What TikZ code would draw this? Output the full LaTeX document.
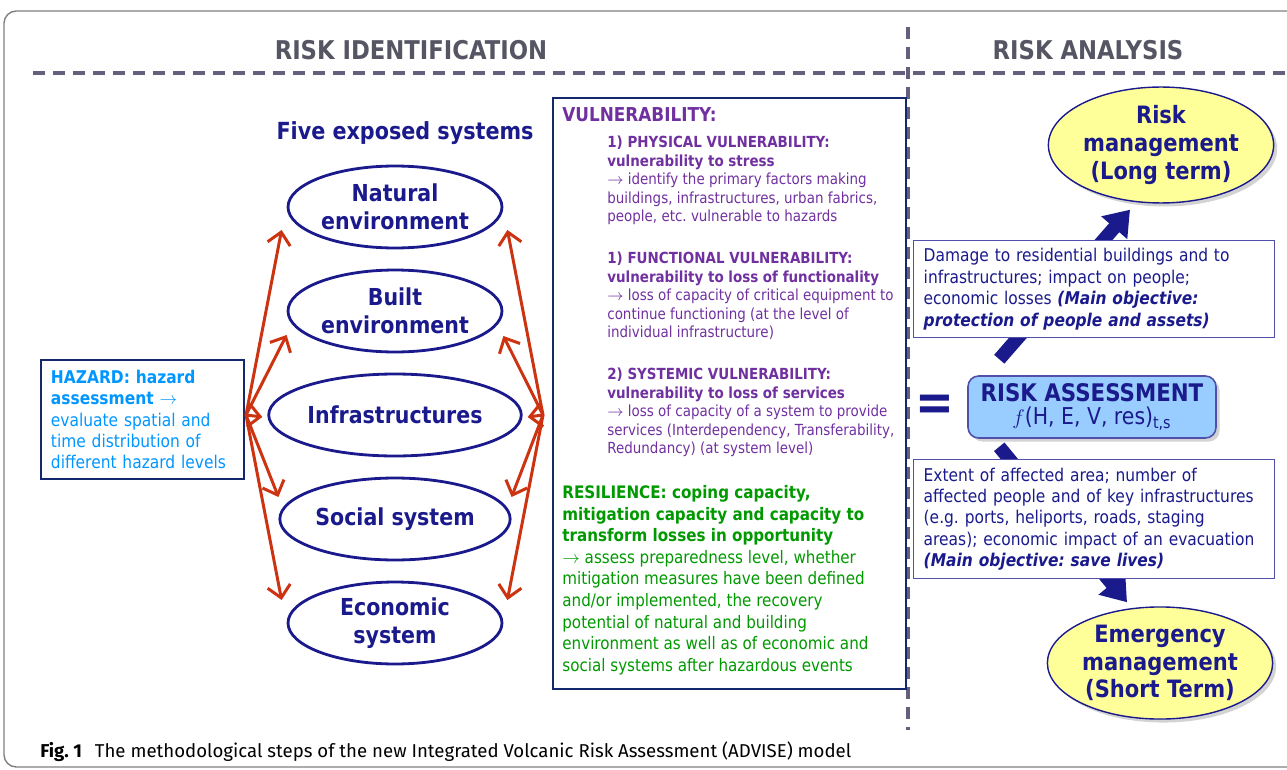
\documentclass[tikz,border=0pt]{standalone}
\usepackage{fontspec}
\setmainfont{DejaVu Sans}[FakeStretch=0.88]
\newfontfamily\captionfont{Fira Sans}
\usetikzlibrary{positioning,arrows.meta}
\usetikzlibrary{shapes.geometric,shadows}
\usetikzlibrary{math,calc}
\frenchspacing

\definecolor{navy}{RGB}{26,26,140}
\definecolor{redarr}{RGB}{204,51,17}
\definecolor{vulnpurple}{RGB}{112,48,160}
\definecolor{resgreen}{RGB}{0,153,0}
\definecolor{hazblue}{RGB}{0,150,255}
\definecolor{headgray}{RGB}{85,85,100}
\definecolor{dashgray}{RGB}{100,95,125}
\definecolor{boxblue}{RGB}{20,40,110}
\definecolor{thinblue}{RGB}{80,80,170}
\definecolor{assessfill}{RGB}{153,204,255}
\definecolor{mgmtfill}{RGB}{255,255,153}

\tikzset{
    system/.style={ellipse, draw=navy, line width=1.6pt, text=navy,
        minimum width=4.28cm, minimum height=1.64cm, inner sep=1pt, align=center,
        font=\bfseries\fontsize{13.3}{15.9}\selectfont},
    mgmt/.style={ellipse, draw=navy, line width=0.8pt, fill=mgmtfill, text=navy,
        minimum width=4.5cm, minimum height=2.18cm, inner sep=1pt, align=center,
        drop shadow={shadow xshift=2pt, shadow yshift=-2pt, opacity=0.35},
        font=\bfseries\fontsize{13.6}{15.7}\selectfont},
    infobox/.style={draw=thinblue, line width=0.8pt, fill=white, text=navy,
        inner xsep=0.2cm, text width=6.82cm, align=left,
        font=\fontsize{10}{12.2}\selectfont},
    redline/.style={draw=redarr, line width=1.7pt, ->},
    bigarrow/.style={draw=navy, line width=0.27cm,
        -{Triangle[length=0.48cm,width=0.66cm]}},
    divider/.style={draw=dashgray, line width=2.3pt,
        dash pattern=on 0.24cm off 0.16cm},
    header/.style={text=headgray, font=\bfseries\fontsize{14.7}{17}\selectfont},
}

\begin{document}
\begin{tikzpicture}[
    x=0.02cm, y=-0.02cm,
    >={Straight Barb[length=2.4mm,width=4.6mm]},
  ]

  \tikzmath{
    \sysx = 395; % centre line of the five systems
    \sysy = 207; % centre of the first system
    \sysgap = 104; % distance between two systems
  }

  \useasboundingbox (0,0) rectangle (1287,770);

  % frame of the figure
  \draw[draw=gray, line width=0.8pt, rounded corners=7pt] (4,11) rectangle (1320,767);

  % ---------------
  % Headers
  % ---------------
  \node[header] (identhead) at (411,50) {RISK IDENTIFICATION};
  \node[header] (analhead) at (1088,50) {RISK ANALYSIS};

  \draw[divider] (33,73) -- (1287,73);
  \draw[divider] (908,27) -- (908,730);

  % ---------------
  % Risk identification
  % ---------------

  % hazard box
  \node[draw=boxblue, line width=1.1pt, text=hazblue, anchor=north west,
        minimum width=4.06cm, minimum height=2.38cm, inner xsep=0.2cm,
        text width=3.66cm, align=left, font=\fontsize{10}{12.2}\selectfont]
    (hazard) at (40,359)
    {\textbf{HAZARD: hazard}\\ \textbf{assessment} $\rightarrow$\\ evaluate spatial and\\
     time distribution of\\ different hazard levels};

  % five exposed systems
  \node[text=navy, font=\bfseries\fontsize{13.4}{15}\selectfont] (five) at (405,133) {Five exposed systems};

  \node[system] (nat)    at (\sysx, \sysy)            {Natural\\environment};
  \node[system] (built)  at (\sysx, \sysy+\sysgap)    {Built\\environment};
  \node[system] (infra)  at (\sysx, \sysy+2*\sysgap)  {Infrastructures};
  \node[system] (social) at (\sysx, \sysy+3*\sysgap)  {Social system};
  \node[system] (econ)   at (\sysx, \sysy+4*\sysgap)  {Economic\\system};

  \coordinate (lhub) at (246,415);
  \coordinate (rhub) at (543,415);

  % arrows from the hazard
  \draw[redline] (lhub) -- ([shift={(-5,23)}]nat.west);
  \draw[redline] (lhub) -- ([shift={(0,24)}]built.west);
  \draw[redline] (lhub) -- ([shift={(-5,2)}]infra.west);
  \draw[redline] (lhub) -- ([shift={(0,-22)}]social.west);
  \draw[redline] (lhub) -- ([shift={(-5,-23)}]econ.west);

  % arrows from vulnerability and resilience
  \draw[redline] (rhub) -- ([shift={(4,23)}]nat.east);
  \draw[redline] (rhub) -- ([shift={(0,25)}]built.east);
  \draw[redline] (rhub) -- ([shift={(5,2)}]infra.east);
  \draw[redline] (rhub) -- ([shift={(0,-22)}]social.east);
  \draw[redline] (rhub) -- ([shift={(4,-23)}]econ.east);

  % vulnerability and resilience box
  \node[draw=boxblue, line width=1.1pt, anchor=north west,
        minimum width=7.06cm, minimum height=11.82cm] (vuln) at (552,97) {};

  \node[anchor=north west, inner sep=0, text=vulnpurple,
        font=\bfseries\fontsize{10.9}{12}\selectfont]
    (vulnhead) at (562,107) {VULNERABILITY:};

  \node[anchor=north west, inner sep=0, text=vulnpurple, align=left,
        font=\fontsize{8.7}{10.5}\selectfont] (phys) at (607,136)
    {\textbf{1) PHYSICAL VULNERABILITY:}\\ \textbf{vulnerability to stress}\\
     $\rightarrow$ identify the primary factors making\\
     buildings, infrastructures, urban fabrics,\\
     people, etc. vulnerable to hazards};

  \node[anchor=north west, inner sep=0, text=vulnpurple, align=left,
        font=\fontsize{8.7}{10.5}\selectfont] (func) at (607,252)
    {\textbf{1) FUNCTIONAL VULNERABILITY:}\\ \textbf{vulnerability to loss of functionality}\\
     $\rightarrow$ loss of capacity of critical equipment to\\
     continue functioning (at the level of\\
     individual infrastructure)};

  \node[anchor=north west, inner sep=0, text=vulnpurple, align=left,
        font=\fontsize{8.7}{10.5}\selectfont] (syst) at (607,368)
    {\textbf{2) SYSTEMIC VULNERABILITY:}\\ \textbf{vulnerability to loss of services}\\
     $\rightarrow$ loss of capacity of a system to provide\\
     services (Interdependency, Transferability,\\
     Redundancy) (at system level)};

  \node[anchor=north west, inner sep=0, text=resgreen, align=left,
        font=\fontsize{9.8}{12.3}\selectfont] (resil) at (562,485)
    {\textbf{RESILIENCE: coping capacity,}\\
     \textbf{mitigation capacity and capacity to}\\
     \textbf{transform losses in opportunity}\\
     $\rightarrow$ assess preparedness level, whether\\
     mitigation measures have been defined\\
     and/or implemented, the recovery\\
     potential of natural and building\\
     environment as well as of economic and\\
     social systems after hazardous events};

  % ---------------
  % Risk analysis
  % ---------------
  \node[mgmt] (longterm) at (1161,145) {Risk\\management\\(Long term)};
  \node[mgmt] (shortterm) at (1160,663) {Emergency\\management\\(Short Term)};

  \node[draw=thinblue, line width=0.9pt, fill=assessfill, rounded corners=6pt,
        minimum width=4.96cm, minimum height=1.24cm, align=center, text=navy,
        drop shadow={shadow xshift=2pt, shadow yshift=-2pt, opacity=0.35}]
    (assess) at (1092,407)
    {{\bfseries\fontsize{13.8}{15}\selectfont RISK ASSESSMENT}\\[1pt]
     {\fontsize{13.2}{14}\selectfont $f$(H, E, V, res)\textsubscript{t,s}}};

  \node[text=navy, font=\bfseries\fontsize{30}{30}\selectfont] (equal) at (935,408) {=};

  % thick arrows, partly hidden by the boxes
  \draw[bigarrow] ([shift={(32,-16)}]assess.north west) -- ([shift={(-31,6)}]longterm.south);
  \draw[bigarrow] ([shift={(32,8)}]assess.south west) -- ([shift={(-33,-4)}]shortterm.north);

  \node[infobox, anchor=north west, minimum height=1.94cm] (damage) at (913,240)
    {Damage to residential buildings and to\\
     infrastructures; impact on people;\\
     economic losses \textbf{\textit{(Main objective:}}\\
     \textbf{\textit{protection of people and assets)}}};

  \node[infobox, anchor=north west, minimum height=2.38cm] (extent) at (913,459)
    {Extent of affected area; number of\\
     affected people and of key infrastructures\\
     (e.g. ports, heliports, roads, staging\\
     areas); economic impact of an evacuation\\
     \textbf{\textit{(Main objective: save lives)}}};

  % caption
  \node[anchor=base west, inner sep=0, font=\captionfont\fontsize{10.6}{12}\selectfont]
    (caption) at (40,757)
    {\textbf{Fig. 1}\hspace{0.7em}The methodological steps of the new Integrated Volcanic Risk Assessment (ADVISE) model};

\end{tikzpicture}
\end{document}
